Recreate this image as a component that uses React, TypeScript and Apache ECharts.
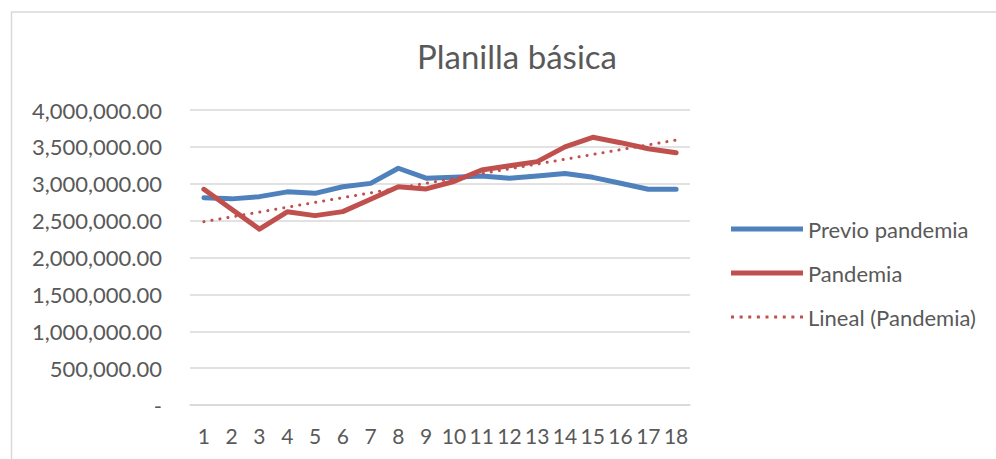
import React, { useEffect, useRef } from "react";
import * as echarts from "echarts";

const categories = ["1","2","3","4","5","6","7","8","9","10","11","12","13","14","15","16","17","18"];
const previoPandemia = [2810000, 2795000, 2825000, 2890000, 2870000, 2960000, 3005000, 3210000, 3075000, 3087000, 3105000, 3075000, 3105000, 3140000, 3087000, 3006000, 2925000, 2925000];
const pandemia = [2925000, 2655000, 2385000, 2620000, 2568000, 2622000, 2790000, 2960000, 2930000, 3030000, 3186000, 3245000, 3300000, 3500000, 3630000, 3557000, 3475000, 3420000];
const trendStart = 2486000;
const trendEnd = 3593000;
const yTicks = [0, 500000, 1000000, 1500000, 2000000, 2500000, 3000000, 3500000, 4000000];

const FONT = "Lato";

const dotIcon = (() => {
  let d = "path://";
  for (let i = 0; i < 9; i++) {
    const x = i * 8.6;
    d += `M${x.toFixed(1)},0 h3 v3 h-3 Z `;
  }
  return d.trim();
})();

export default function App() {
  const ref = useRef<HTMLDivElement>(null);
  useEffect(() => {
    if (!ref.current) return;
    const chart = echarts.init(ref.current, null, { renderer: "svg" });
    const trendData = categories.map((_, i) => (i === 0 ? trendStart : i === categories.length - 1 ? trendEnd : null));
    const fmt = (v: number) =>
      v === 0 ? "-" : v.toLocaleString("en-US", { minimumFractionDigits: 2, maximumFractionDigits: 2 });
    chart.setOption({
      animation: false,
      backgroundColor: "#ffffff",
      textStyle: { fontFamily: FONT },
      title: {
        text: "Planilla básica",
        left: 512,
        top: 34,
        textAlign: "center",
        textStyle: { fontFamily: FONT, fontSize: 33, fontWeight: "normal", color: "#595959" },
      },
      graphic: [
        {
          type: "rect",
          shape: { x: 11.5, y: 12, width: 1000, height: 500 },
          style: { fill: "none", stroke: "#d9d9d9", lineWidth: 1.5 },
          silent: true,
        },
      ],
      legend: {
        orient: "vertical",
        left: 726,
        top: 213,
        itemGap: 22,
        itemWidth: 72,
        itemHeight: 22,
        textStyle: { fontFamily: FONT, fontSize: 22, color: "#595959" },
        data: [
          { name: "Previo pandemia", icon: "path://M0,0 L72,0 L72,5 L0,5 Z" },
          { name: "Pandemia", icon: "path://M0,0 L72,0 L72,5 L0,5 Z" },
          { name: "Lineal (Pandemia)", icon: dotIcon },
        ],
      },
      grid: { left: 190, right: 306, top: 110, bottom: 54, containLabel: false },
      xAxis: {
        type: "category",
        data: categories,
        boundaryGap: true,
        axisLine: { show: true, lineStyle: { color: "#d9d9d9", width: 1.5 } },
        axisTick: { show: false },
        axisLabel: { fontFamily: FONT, fontSize: 21, color: "#595959", margin: 20, interval: 0 },
      },
      yAxis: {
        type: "value",
        min: 0,
        max: 4000000,
        interval: 500000,
        axisLine: { show: false },
        axisTick: { show: false },
        splitLine: { lineStyle: { color: "#d9d9d9", width: 1.5 } },
        axisLabel: {
          fontFamily: FONT,
          fontSize: 22,
          color: "#595959",
          margin: 28,
          formatter: (v: number) => (yTicks.includes(v) ? fmt(v) : ""),
        },
      },
      series: [
        {
          name: "Previo pandemia",
          type: "line",
          data: previoPandemia,
          symbol: "none",
          color: "#4F81BD",
          lineStyle: { width: 5, color: "#4F81BD", cap: "round", join: "round" },
          z: 2,
        },
        {
          name: "Pandemia",
          type: "line",
          data: pandemia,
          symbol: "none",
          color: "#C0504D",
          lineStyle: { width: 5, color: "#C0504D", cap: "round", join: "round" },
          z: 3,
        },
        {
          name: "Lineal (Pandemia)",
          type: "line",
          data: trendData,
          connectNulls: true,
          symbol: "none",
          color: "#C0504D",
          lineStyle: { width: 3, color: "#C0504D", type: [0.1, 8], cap: "round" },
          z: 4,
        },
      ],
    });
    return () => chart.dispose();
  }, []);
  return <div ref={ref} style={{ position: "fixed", left: 0, top: 0, width: 996, height: 459 }} />;
}
